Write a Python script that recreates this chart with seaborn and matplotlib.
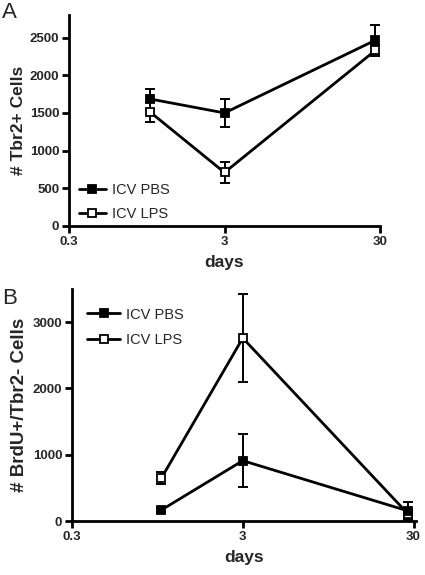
import numpy as np
import pandas as pd
import matplotlib
matplotlib.use("Agg")
import matplotlib.pyplot as plt
import seaborn as sns
from matplotlib.lines import Line2D

days = [1, 3, 28]
groups = ["ICV PBS", "ICV LPS"]

# Panel A: # Tbr2+ Cells
a_pbs = [1685, 1500, 2465]
a_pbs_err = [130, 180, 200]
a_lps = [1510, 710, 2330]
a_lps_err = [135, 140, 70]

# Panel B: # BrdU+/Tbr2- Cells
b_pbs = [165, 910, 150]
b_pbs_err = [30, 400, 130]
b_lps = [645, 2760, 100]
b_lps_err = [90, 670, 60]

x_ticks = [0.3, 3, 30]
x_tick_labels = ["0.3", "3", "30"]

sns.set_theme(style="ticks")
plt.rcParams['font.family'] = ['Liberation Sans', 'DejaVu Sans']

fig = plt.figure(figsize=(4.25, 5.75), dpi=100)
axA = fig.add_axes([69/425, 1-226/575, (380-69)/425, (226-15)/575])
axB = fig.add_axes([72/425, 1-521/575, (416-72)/425, (521-289)/575])

mfc = {"ICV PBS": "black", "ICV LPS": "white"}

def draw(ax, pbs, pbs_err, lps, lps_err, ylim, yticks, ylabel, ylabel_size, xmax,
         legend_loc, legend_anchor, handlelength, labelspacing):
    df = pd.DataFrame({
        "days": days * 2,
        "value": pbs + lps,
        "group": [groups[0]] * 3 + [groups[1]] * 3,
    })
    ax.set_xscale("log")
    for g, errs in [(groups[1], lps_err), (groups[0], pbs_err)]:
        sub = df[df["group"] == g]
        ax.errorbar(sub["days"], sub["value"], yerr=errs, fmt="none",
                    ecolor="black", elinewidth=1.4, capsize=3.3, capthick=1.4, zorder=2)
        sns.lineplot(data=sub, x="days", y="value", ax=ax, color="black",
                     linewidth=2.0, marker="s", markersize=5.5,
                     markerfacecolor=mfc[g], markeredgecolor="black",
                     markeredgewidth=1.3, legend=False, zorder=3)
    ax.set_xlim(0.3, xmax)
    ax.set_ylim(*ylim)
    ax.set_xticks(x_ticks)
    ax.set_xticklabels(x_tick_labels)
    ax.xaxis.set_minor_locator(matplotlib.ticker.NullLocator())
    ax.set_yticks(yticks)
    ax.set_yticklabels([str(t) for t in yticks])
    for s in ["top", "right"]:
        ax.spines[s].set_visible(False)
    for s in ["left", "bottom"]:
        ax.spines[s].set_linewidth(2.0)
        ax.spines[s].set_color("black")
    ax.tick_params(axis="both", width=2.0, length=5, color="black", labelsize=9.5, pad=2)
    for lbl in ax.get_xticklabels() + ax.get_yticklabels():
        lbl.set_fontweight("bold")
    ax.set_xlabel("days", fontsize=12.5, fontweight="bold", labelpad=5)
    ax.set_ylabel(ylabel, fontsize=ylabel_size, fontweight="bold", labelpad=3)
    handles = [Line2D([0], [0], color="black", lw=2.0, marker="s", markersize=5.5,
                      markerfacecolor=mfc[g], markeredgecolor="black",
                      markeredgewidth=1.3) for g in groups]
    ax.legend(handles, groups, loc=legend_loc, bbox_to_anchor=legend_anchor, frameon=False,
              fontsize=10.5, handlelength=handlelength, handletextpad=0.45,
              labelspacing=labelspacing, borderaxespad=0)

draw(axA, a_pbs, a_pbs_err, a_lps, a_lps_err, (0, 2800), [0, 500, 1000, 1500, 2000, 2500],
     "# Tbr2+ Cells", 12.5, 30, "lower left", (0.012, -0.005), 1.85, 0.7)
draw(axB, b_pbs, b_pbs_err, b_lps, b_lps_err, (0, 3500), [0, 1000, 2000, 3000],
     "# BrdU+/Tbr2- Cells", 13.5, 31, "upper left", (0.028, 0.945), 2.2, 0.8)

fig.text(2/425, 1-18/575, "A", fontsize=16)
fig.text(2/425, 1-304/575, "B", fontsize=16)

fig.savefig("out.png", dpi=100)
